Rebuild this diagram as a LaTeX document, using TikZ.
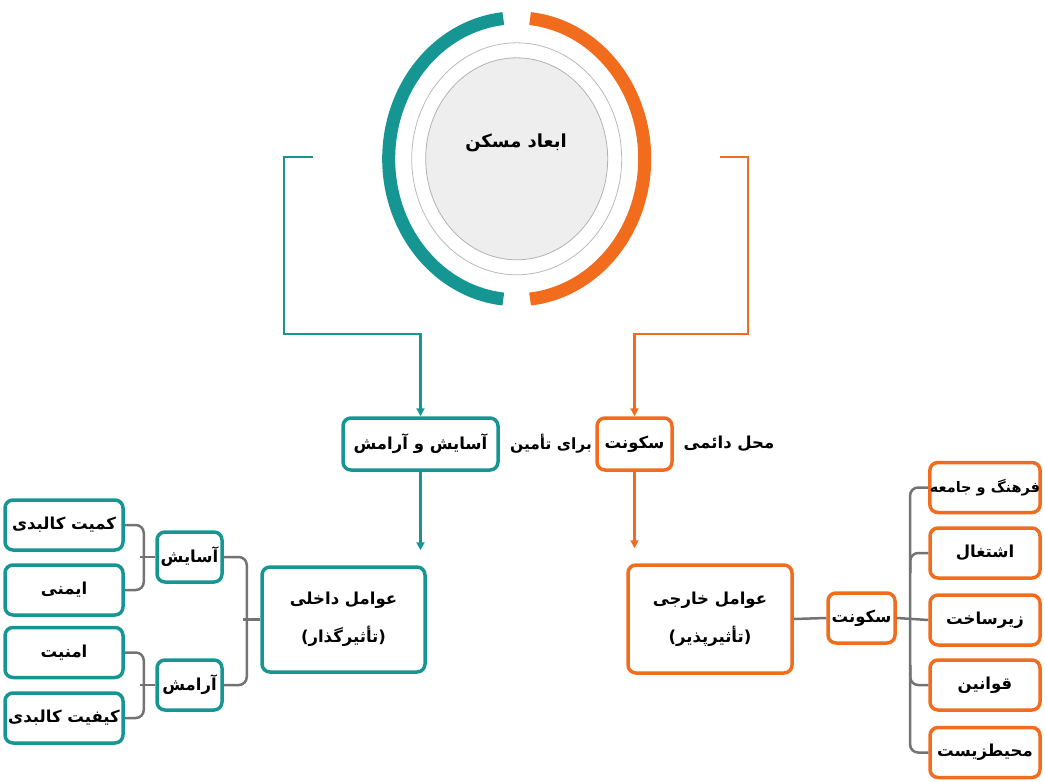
\documentclass[tikz,border=0pt]{standalone}
\usepackage{fontspec}
\usepackage{tikz}
\usetikzlibrary{arrows.meta, calc}
\TeXXeTstate=1
\newfontfamily\farsi[Script=Arabic]{DejaVu Sans}
\newcommand{\fl}[1]{\beginR #1\endR}
\definecolor{tealc}{RGB}{22,150,146}
\definecolor{orangec}{RGB}{241,108,28}
\definecolor{linkc}{RGB}{115,115,115}
\tikzset{
  base/.style={font=\farsi\bfseries\fontsize{16.5}{38}\selectfont, inner sep=0pt},
  small/.style={font=\farsi\bfseries\fontsize{14.5}{20}\selectfont},
  tbox/.style={base, draw=tealc, line width=3.5, rounded corners=8, fill=white, align=center},
  obox/.style={base, draw=orangec, line width=3.5, rounded corners=8, fill=white, align=center},
  tline/.style={draw=tealc, line width=2.5},
  oline/.style={draw=orangec, line width=2.5},
  link/.style={draw=linkc, line width=2.5, rounded corners=8},
  tip/.style={-{Triangle[length=8pt,width=8pt]}}
}
\begin{document}
\begin{tikzpicture}[x=1pt, y=-1pt]
\useasboundingbox (0,0) rectangle (1045,782);
\coordinate (c) at (516.7,158.8);
\draw[line width=13, tealc] (c) ++(96:128 and 141) arc[start angle=96, end angle=264, x radius=128, y radius=141];
\draw[line width=13, orangec] (c) ++(-84:128 and 141) arc[start angle=-84, end angle=84, x radius=128, y radius=141];
\draw[gray!55, line width=0.8] (c) ellipse[x radius=105, y radius=116];
\draw[gray!60, line width=0.8, fill=gray!13] (c) ellipse[x radius=91, y radius=101];
\node[base, font=\farsi\bfseries\fontsize{18}{20}\selectfont] (hub) at (516,143) {\fl{ابعاد مسکن}};

\node[tbox, minimum width=155, minimum height=52] (comfort) at (420.5,444) {\fl{آسایش و آرامش}};
\node[obox, minimum width=75, minimum height=52] (dwell) at (634.5,444) {\fl{سکونت}};
\node[base, font=\farsi\bfseries\fontsize{15.5}{20}\selectfont] (for) at (551,444) {\fl{برای تأمین}};
\node[base] (place) at (729,444) {\fl{محل دائمی}};

\coordinate (tstub) at (313,157);
\coordinate (ostub) at (720,157);
\draw[tline, tip] (tstub) -- ++(-29,0) -- ++(0,177) -| (comfort.north);
\draw[oline, tip] (ostub) -- ++(28,0) -- ++(0,177) -| (dwell.north);

\node[tbox, minimum width=163, minimum height=105] (inner) at (343.5,619.5) {\fl{عوامل داخلی}\\\fl{(تأثیرگذار)}};
\node[obox, minimum width=164, minimum height=108] (outer) at (710,619) {\fl{عوامل خارجی}\\\fl{(تأثیرپذیر)}};
\draw[tline, tip, shorten >=15pt] (comfort.south) -- (comfort.south |- inner.north);
\draw[oline, tip, shorten >=15pt] (dwell.south) -- (dwell.south |- outer.north);

\node[tbox, minimum width=65, minimum height=50] (ease) at (189.5,557) {\fl{آسایش}};
\node[tbox, minimum width=65, minimum height=50] (calm) at (189.5,685) {\fl{آرامش}};
\foreach \name/\txt/\y in {qty/کمیت کالبدی/525, safe/ایمنی/590, secure/امنیت/652.5, qual/کیفیت کالبدی/718}
  \node[tbox, minimum width=118, minimum height=50] (\name) at (64,\y) {\fl{\txt}};
\draw[link] (qty.east) -- ++(19,0) |- (safe.east);
\draw[link] (ease.west) -- ++(-15,0);
\draw[link] (secure.east) -- ++(19,0) |- (qual.east);
\draw[link] (calm.west) -- ++(-15,0);
\draw[link] (ease.east) -- ++(23,0) |- (calm.east);
\draw[link] (inner.west) -- ++(-17,0);

\node[obox, minimum width=67, minimum height=50] (dwell2) at (861.5,618) {\fl{سکونت}};
\node[obox, small, minimum width=110, minimum height=50] (culture) at (985,487.5) {\fl{فرهنگ و جامعه}};
\foreach \name/\txt/\y in {job/اشتغال/553, infra/زیرساخت/620, law/قوانین/685, env/محیطزیست/752.5}
  \node[obox, minimum width=110, minimum height=50] (\name) at (985,\y) {\fl{\txt}};
\draw[link] (outer.east) -- (dwell2.west);
\draw[link] (dwell2.east) -- (infra.west);
\draw[link] (culture.west) -- ++(-18,0) |- (env.west);
\draw[link] (job.west) -- ++(-18,0) -- ++(0,20);
\draw[link] (law.west) -- ++(-18,0) -- ++(0,-20);
\end{tikzpicture}
\end{document}
